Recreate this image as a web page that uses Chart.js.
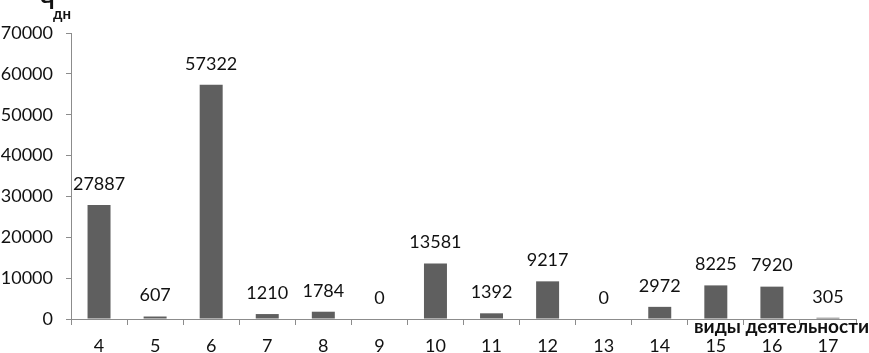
<!DOCTYPE html>
<html>
<head>
<meta charset="utf-8">
<script src="https://cdn.jsdelivr.net/npm/chart.js@4/dist/chart.umd.min.js"></script>
<style>
  html, body { margin: 0; padding: 0; background: #fff; }
  #wrap { width: 869px; height: 353px; position: relative; }
</style>
</head>
<body>
<div id="wrap"><canvas id="chart" width="869" height="353"></canvas></div>
<script>
const categories = ['4', '5', '6', '7', '8', '9', '10', '11', '12', '13', '14', '15', '16', '17'];
const values = [27887, 607, 57322, 1210, 1784, 0, 13581, 1392, 9217, 0, 2972, 8225, 7920, 305];
const yTicks = [0, 10000, 20000, 30000, 40000, 50000, 60000, 70000];

const FONT = "Lato, 'Open Sans', sans-serif";

// value labels above bars + axis titles
const labelsPlugin = {
    id: 'labels',
    afterDatasetsDraw(chart) {
        const ctx = chart.ctx;
        const meta = chart.getDatasetMeta(0);
        ctx.save();
        ctx.fillStyle = '#111';
        ctx.font = '18px ' + FONT;
        ctx.textAlign = 'center';
        ctx.textBaseline = 'middle';
        meta.data.forEach((bar, i) => {
            ctx.fillText(String(values[i]), bar.x, bar.y - 21);
        });

        ctx.font = 'bold 22px ' + FONT;
        ctx.textAlign = 'left';
        ctx.textBaseline = 'alphabetic';
        ctx.fillText('Ч', 40, 9);
        ctx.font = 'bold 15px ' + FONT;
        ctx.fillText('дн', 53, 19);

        ctx.font = 'bold 19px ' + FONT;
        ctx.textAlign = 'right';
        ctx.fillText('виды деятельности', 869, 333);
        ctx.restore();
    }
};

new Chart(document.getElementById('chart'), {
    type: 'bar',
    data: {
        labels: categories,
        datasets: [{
            data: values,
            backgroundColor: '#5f5f5f',
            borderWidth: 0,
            categoryPercentage: 1.0,
            barPercentage: 0.41
        }]
    },
    options: {
        responsive: false,
        animation: false,
        layout: { padding: { top: 33, right: 13, left: 0, bottom: 0 } },
        plugins: {
            legend: { display: false },
            tooltip: { enabled: false }
        },
        scales: {
            x: {
                grid: {
                    drawOnChartArea: false,
                    tickLength: 6,
                    color: '#8c8c8c'
                },
                border: { color: '#8c8c8c', width: 1 },
                ticks: {
                    color: '#111',
                    font: { family: FONT, size: 18 },
                    padding: 10,
                    maxRotation: 0
                },
                afterFit(scale) { scale.height = 34; }
            },
            y: {
                min: 0,
                max: 70000,
                afterBuildTicks(scale) {
                    scale.ticks = yTicks.map(v => ({ value: v }));
                },
                grid: {
                    drawOnChartArea: false,
                    tickLength: 5,
                    color: '#8c8c8c'
                },
                border: { color: '#8c8c8c', width: 1 },
                ticks: {
                    color: '#111',
                    font: { family: FONT, size: 18 },
                    padding: 13,
                    callback: v => String(v)
                },
                afterFit(scale) { scale.width = 71; }
            }
        }
    },
    plugins: [labelsPlugin]
});
</script>
</body>
</html>
